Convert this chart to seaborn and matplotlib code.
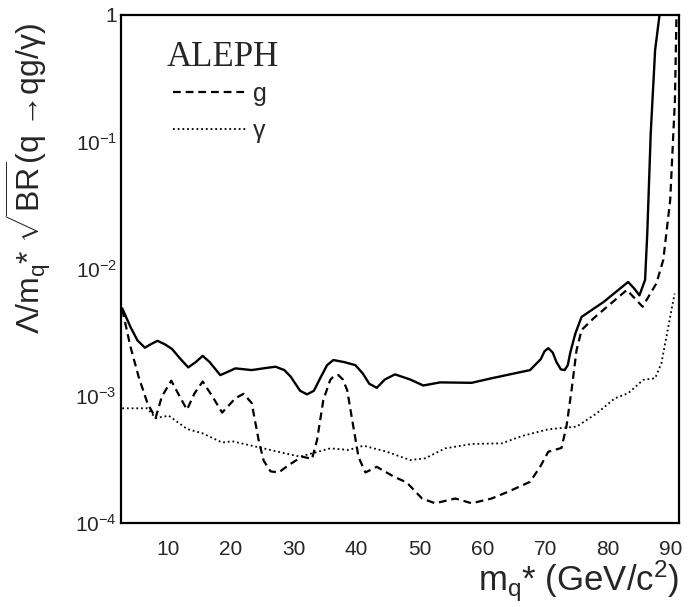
import numpy as np
import pandas as pd
import matplotlib
matplotlib.use("Agg")
import matplotlib.pyplot as plt
import seaborn as sns
from matplotlib.ticker import FixedLocator, FixedFormatter, MultipleLocator, LogLocator, NullFormatter
from matplotlib.lines import Line2D

# ---- data ----
comb_x = [2.7, 4.0, 5.1, 6.3, 7.2, 8.3, 9.5, 10.6, 12.0, 13.2, 14.4, 15.5, 16.6, 18.3, 19.5,
          20.7, 23.3, 25.5, 27.1, 28.5, 29.5, 31.0, 32.1, 33.2, 34.2, 35.3, 36.3, 38.0, 39.8,
          41.0, 42.0, 43.2, 44.5, 46.1, 48.5, 50.6, 53.3, 58.3, 61.5, 67.6, 69.3, 69.9, 70.5,
          71.2, 71.8, 72.5, 73.1, 73.6, 74.0, 74.8, 75.8, 79.3, 83.2, 84.2, 85.0, 85.9, 86.25,
          86.8, 87.5, 88.2]
comb_y = [4.9e-3, 3.5e-3, 2.75e-3, 2.4e-3, 2.55e-3, 2.72e-3, 2.55e-3, 2.35e-3, 1.95e-3, 1.68e-3,
          1.85e-3, 2.07e-3, 1.85e-3, 1.46e-3, 1.55e-3, 1.65e-3, 1.6e-3, 1.66e-3, 1.70e-3, 1.6e-3,
          1.42e-3, 1.1e-3, 1.03e-3, 1.1e-3, 1.38e-3, 1.75e-3, 1.92e-3, 1.85e-3, 1.75e-3, 1.5e-3,
          1.25e-3, 1.16e-3, 1.35e-3, 1.48e-3, 1.35e-3, 1.21e-3, 1.28e-3, 1.27e-3, 1.38e-3, 1.6e-3,
          1.95e-3, 2.25e-3, 2.38e-3, 2.2e-3, 1.85e-3, 1.62e-3, 1.6e-3, 1.75e-3, 2.2e-3, 3.1e-3,
          4.2e-3, 5.5e-3, 7.9e-3, 7.0e-3, 6.2e-3, 8.2e-3, 1.9e-2, 0.117, 0.53, 1.0]

g_x = [2.7, 4.0, 5.3, 6.7, 8.0, 9.0, 10.5, 11.8, 13.0, 14.2, 15.5, 17.0, 18.6, 20.7, 22.0, 23.3,
       24.4, 25.2, 26.3, 27.6, 29.2, 31.3, 32.9, 33.7, 34.7, 35.8, 36.4, 37.1, 37.8, 38.5, 39.2,
       40.3, 41.4, 43.2, 45.9, 48.0, 50.4, 52.5, 55.7, 58.3, 61.5, 64.2, 67.6, 69.2, 70.5, 72.6,
       73.4, 74.2, 75.0, 75.8, 77.7, 83.0, 85.5, 87.7, 88.8, 89.9, 90.65, 90.9]
g_y = [4.8e-3, 2.45e-3, 1.42e-3, 8.8e-4, 6.7e-4, 9.9e-4, 1.32e-3, 1.0e-3, 7.8e-4, 1.05e-3, 1.30e-3,
       1.0e-3, 7.4e-4, 9.6e-4, 1.04e-3, 8.8e-4, 4.5e-4, 3.1e-4, 2.55e-4, 2.5e-4, 2.86e-4, 3.33e-4,
       3.2e-4, 4.5e-4, 9.3e-4, 1.34e-3, 1.44e-3, 1.46e-3, 1.35e-3, 1.11e-3, 6.9e-4, 3.3e-4,
       2.5e-4, 2.77e-4, 2.32e-4, 2.08e-4, 1.56e-4, 1.43e-4, 1.56e-4, 1.43e-4, 1.56e-4, 1.77e-4,
       2.11e-4, 2.77e-4, 3.64e-4, 3.9e-4, 5.8e-4, 1.11e-3, 2.3e-3, 3.31e-3, 4.09e-3, 6.84e-3,
       5.05e-3, 7.7e-3, 1.18e-2, 3.5e-2, 0.214, 1.0]

gam_x = [2.7, 6.7, 8.0, 10.1, 13.0, 15.4, 18.6, 20.2, 23.9, 27.9, 31.0, 35.8, 38.7, 41.1, 44.8,
         48.5, 50.9, 54.1, 58.3, 63.1, 66.3, 70.5, 75.0, 78.2, 81.1, 83.2, 85.6, 87.5, 88.5, 89.3,
         90.6]
gam_y = [8.0e-4, 8.0e-4, 6.7e-4, 7.0e-4, 5.5e-4, 5.1e-4, 4.3e-4, 4.4e-4, 4.0e-4, 3.6e-4, 3.33e-4,
         3.87e-4, 3.76e-4, 4.06e-4, 3.64e-4, 3.13e-4, 3.23e-4, 3.87e-4, 4.19e-4, 4.24e-4, 4.84e-4,
         5.47e-4, 5.74e-4, 7.3e-4, 9.6e-4, 1.05e-3, 1.34e-3, 1.38e-3, 1.81e-3, 2.93e-3, 6.4e-3]

x_ticks = [10, 20, 30, 40, 50, 60, 70, 80, 90]
y_ticks = [1e-4, 1e-3, 1e-2, 1e-1, 1]
y_tick_labels = ['10$^{-4}$', '10$^{-3}$', '10$^{-2}$', '10$^{-1}$', '1']

# ---- style ----
sns.set_style("white")
plt.rcParams['font.family'] = ['Liberation Sans', 'DejaVu Sans']
plt.rcParams['mathtext.fontset'] = 'custom'
plt.rcParams['mathtext.rm'] = 'Liberation Sans'
plt.rcParams['mathtext.it'] = 'Liberation Sans'
plt.rcParams['mathtext.bf'] = 'Liberation Sans:bold'
plt.rcParams['mathtext.sf'] = 'Liberation Sans'

fig = plt.figure(figsize=(6.88, 6.07), dpi=100)
ax = fig.add_axes([121/688, 1-523/607, (679-121)/688, (523-15)/607])

df_c = pd.DataFrame({'x': comb_x, 'y': comb_y})
df_g = pd.DataFrame({'x': g_x, 'y': g_y})
df_p = pd.DataFrame({'x': gam_x, 'y': gam_y})

sns.lineplot(data=df_c, x='x', y='y', ax=ax, color='black', lw=1.7, estimator=None, sort=False)
sns.lineplot(data=df_g, x='x', y='y', ax=ax, color='black', lw=1.6, estimator=None, sort=False)
ax.lines[-1].set_linestyle((0, (3.5, 2.2)))
sns.lineplot(data=df_p, x='x', y='y', ax=ax, color='black', lw=1.3, estimator=None, sort=False)
ax.lines[-1].set_linestyle((0, (1, 1.6)))

ax.set_yscale('log')
ax.set_xlim(2.5, 91.3)
ax.set_ylim(1e-4, 1)

ax.xaxis.set_major_locator(FixedLocator(x_ticks))
ax.xaxis.set_minor_locator(MultipleLocator(2))
ax.yaxis.set_major_locator(FixedLocator(y_ticks))
ax.yaxis.set_major_formatter(FixedFormatter(y_tick_labels))
ax.yaxis.set_minor_locator(LogLocator(base=10, subs=np.arange(2, 10)))
ax.yaxis.set_minor_formatter(NullFormatter())

ax.tick_params(axis='both', which='major', direction='in', length=7, width=1.2, color='black')
ax.tick_params(axis='both', which='minor', direction='in', length=3.5, width=1.0, color='black')
ax.tick_params(axis='x', which='major', labelsize=15, pad=12)
ax.tick_params(axis='y', which='major', labelsize=15, pad=3)

for s in ax.spines.values():
    s.set_linewidth(1.6)
    s.set_color('black')

ax.set_xlabel('m$_{\\mathrm{q}}$* (GeV/c$^{2}$)', fontsize=25, loc='right', labelpad=0)
ax.set_ylabel('Λ/m$_{\\mathrm{q}}$* $\\sqrt{\\mathrm{BR}}$(q →qg/γ)',
              fontsize=23, loc='top')
ax.yaxis.set_label_coords(-0.122, 0.985)

ax.text(0.082, 0.90, 'ALEPH', transform=ax.transAxes, fontsize=25,
        family=['Liberation Serif', 'DejaVu Serif'], va='baseline', ha='left')

handles = [Line2D([], [], color='black', lw=1.6, linestyle=(0, (3.5, 2.2))),
           Line2D([], [], color='black', lw=1.3, linestyle=(0, (1, 1.6)))]
ax.legend(handles, ['g', 'γ'], loc='upper left', bbox_to_anchor=(0.093, 0.868),
          frameon=False, fontsize=18, handlelength=2.95, handletextpad=0.25,
          labelspacing=0.5, borderpad=0, borderaxespad=0)

fig.savefig('out.png', dpi=100)
